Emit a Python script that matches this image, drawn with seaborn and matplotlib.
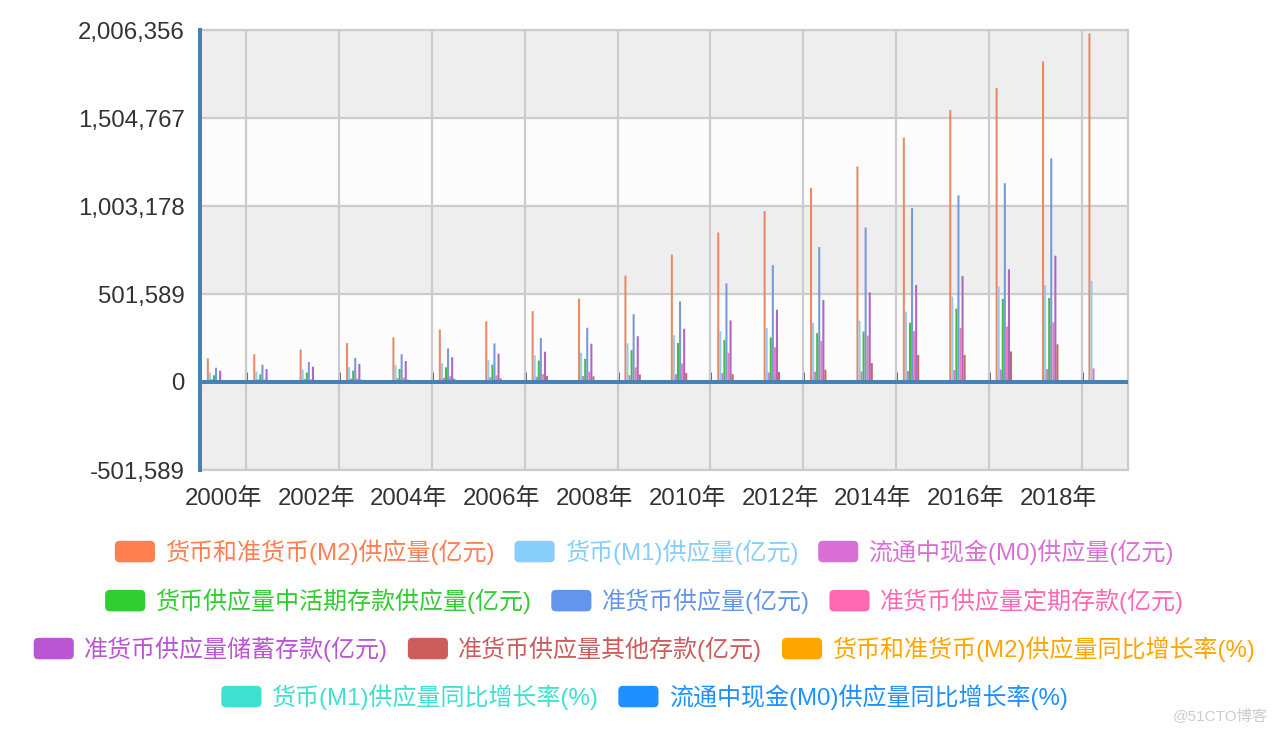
import numpy as np
import pandas as pd
import matplotlib
matplotlib.use("Agg")
import matplotlib.pyplot as plt
from matplotlib.patches import Patch, FancyBboxPatch
from matplotlib.legend_handler import HandlerBase
import seaborn as sns

sns.set_style("white")
plt.rcParams['font.family'] = ['Liberation Sans', 'Noto Sans CJK SC', 'DejaVu Sans']

# ---------------- data ----------------
years = [f"{y}年" for y in range(2000, 2020)]

m2 = [134610, 158302, 185007, 221223, 254107, 298756, 345604, 403442, 475167, 606225,
      725852, 851591, 974149, 1106525, 1228375, 1392278, 1550067, 1676769, 1826744, 1986489]
m1 = [53147, 59872, 70882, 84119, 95970, 107279, 126035, 152560, 166217, 220002,
      266622, 289848, 308664, 337291, 348056, 400953, 486557, 543790, 551686, 576009]
m0 = [14653, 15689, 17278, 19746, 21468, 24032, 27073, 30375, 34219, 38246,
      44628, 50749, 54660, 58574, 60260, 63217, 68304, 70646, 73208, 77189]
demand_dep = [38495, 44183, 53604, 64373, 74501, 83247, 98963, 122185, 131998, 181756,
              221993, 239099, 254004, 278717, 287797, 337737, 418253, 473145, 478478, np.nan]
quasi = [81463, 98430, 114125, 137104, 158137, 191477, 219569, 250882, 308950, 386224,
         459230, 561743, 665485, 769234, 880318, 991325, 1063510, 1132978, 1275058, np.nan]
time_dep = [10000, 14000, 15000, 20000, 25000, 32000, 38000, 45000, 59000, 83000,
            105000, 166000, 198000, 234000, 264000, 289000, 308000, 316000, 340000, np.nan]
savings_dep = [64300, 73800, 86900, 103600, 119600, 141000, 161600, 172500, 218000, 260800,
               303300, 351000, 412000, 467000, 511000, 553000, 604000, 643000, 720000, np.nan]
other_dep = [7000, 10500, 12000, 13500, 13500, 18500, 20000, 33400, 32000, 42500,
             51000, 44700, 57000, 70000, 108000, 154000, 154000, 174000, 215000, np.nan]
m2_yoy = [12.3, 17.6, 16.8, 19.6, 14.6, 17.6, 16.9, 16.7, 17.8, 27.7,
          19.7, 13.6, 13.8, 13.6, 12.2, 13.3, 11.3, 8.2, 8.1, 8.7]
m1_yoy = [16.0, 12.7, 16.8, 18.7, 13.6, 11.8, 17.5, 21.0, 9.1, 32.4,
          21.2, 7.9, 6.5, 9.3, 3.2, 15.2, 21.4, 11.8, 1.5, 4.4]
m0_yoy = [8.9, 7.1, 10.1, 14.3, 8.7, 11.9, 12.7, 12.1, 12.7, 11.8,
          16.7, 13.8, 7.7, 7.1, 2.9, 4.9, 8.1, 3.4, 3.6, 5.4]

series_names = [
    "货币和准货币(M2)供应量(亿元)", "货币(M1)供应量(亿元)", "流通中现金(M0)供应量(亿元)",
    "货币供应量中活期存款供应量(亿元)", "准货币供应量(亿元)", "准货币供应量定期存款(亿元)",
    "准货币供应量储蓄存款(亿元)", "准货币供应量其他存款(亿元)", "货币和准货币(M2)供应量同比增长率(%)",
    "货币(M1)供应量同比增长率(%)", "流通中现金(M0)供应量同比增长率(%)",
]
series_values = [m2, m1, m0, demand_dep, quasi, time_dep, savings_dep, other_dep,
                 m2_yoy, m1_yoy, m0_yoy]
colors = ['#ff7f50', '#87cefa', '#da70d6', '#32cd32', '#6495ed', '#ff69b4',
          '#ba55d3', '#cd5c5c', '#ffa500', '#40e0d0', '#1e90ff']

y_ticks = [-501589, 0, 501589, 1003178, 1504767, 2006356]

rows = []
for name, vals in zip(series_names, series_values):
    for yr, v in zip(years, vals):
        rows.append({"year": yr, "series": name, "value": v})
df = pd.DataFrame(rows)

# ---------------- figure ----------------
fig = plt.figure(figsize=(12.76, 7.34), dpi=100)
ax = fig.add_axes([200 / 1276, 1 - 470 / 734, 928 / 1276, 440 / 734])

# alternating background bands
band_cols = ['#eeeeee', '#fcfcfc']
for i in range(len(y_ticks) - 1):
    ax.axhspan(y_ticks[i], y_ticks[i + 1], color=band_cols[i % 2], zorder=0, lw=0)

n = len(series_names)
slot = 0.0442
sns.barplot(data=df, x="year", y="value", hue="series", order=years, hue_order=series_names,
            palette=colors, width=slot * n, gap=0.0, errorbar=None, legend=False,
            linewidth=0, ax=ax, zorder=2)
for c in ax.containers:
    for bar in c:
        bar.set_x(bar.get_x() - 0.11)
        bar.set_snap(False)

ax.set_xlim(-0.5, len(years) - 0.5)
ax.set_ylim(y_ticks[0], y_ticks[-1])
ax.set_xlabel("")
ax.set_ylabel("")

ax.set_yticks(y_ticks)
ax.set_yticklabels([f"{v:,}" for v in y_ticks])
ax.set_xticks(range(0, 19, 2))
ax.set_xticklabels(years[0:19:2])
bounds = [i + 0.5 for i in range(0, len(years), 2)]
ax.set_xticks(bounds, minor=True)

ax.tick_params(axis='both', which='both', length=0)
ax.tick_params(axis='y', pad=11, labelsize=17.3, labelcolor='#333333')
ax.tick_params(axis='x', pad=13, labelsize=17.3, labelcolor='#333333')

ax.grid(False)
ax.yaxis.grid(True, color='#cccccc', lw=1.6, zorder=1)
ax.xaxis.grid(True, which='minor', color='#cccccc', lw=1.6, zorder=1)
ax.set_axisbelow(True)

for s in ['top', 'right', 'bottom']:
    ax.spines[s].set_color('#cccccc')
    ax.spines[s].set_linewidth(1.6)
ax.spines['left'].set_color('#4682b4')
ax.spines['left'].set_linewidth(2.9)
ax.spines['left'].set_zorder(5)

ax.axhline(0, color='#4682b4', lw=2.9, zorder=4)

# small axis ticks on zero line
zero_frac = (0 - y_ticks[0]) / (y_ticks[-1] - y_ticks[0])
sec = ax.secondary_xaxis(zero_frac)
sec.set_xticks(bounds)
sec.tick_params(direction='in', length=7, width=2.2, color='#666666',
                labelbottom=False, labeltop=False)
for s in sec.spines.values():
    s.set_visible(False)


# ---------------- legend ----------------
class RoundHandler(HandlerBase):
    def create_artists(self, legend, orig_handle, xdescent, ydescent, width, height,
                       fontsize, trans):
        p = FancyBboxPatch((-xdescent, -ydescent), width, height,
                           boxstyle=f"round,pad=0,rounding_size={height * 0.22}",
                           facecolor=orig_handle.get_facecolor(), edgecolor='none',
                           transform=trans)
        return [p]


row_groups = [[0, 1, 2], [3, 4, 5], [6, 7, 8], [9, 10]]
row_y = [552, 601, 649, 697]
for grp, yc in zip(row_groups, row_y):
    handles = [Patch(facecolor=colors[k]) for k in grp]
    labels = [series_names[k] for k in grp]
    leg = fig.legend(handles, labels, loc='center', bbox_to_anchor=(0.505, 1 - yc / 734),
                     ncol=len(grp), frameon=False, fontsize=17.3,
                     handlelength=1.67, handleheight=1.0, handletextpad=0.42,
                     columnspacing=0.83, borderpad=0, borderaxespad=0,
                     handler_map={Patch: RoundHandler()})
    for t, k in zip(leg.get_texts(), grp):
        t.set_color(colors[k])

fig.text(1268 / 1276, 1 - 716 / 734, "@51CTO博客", ha='right', va='center',
         fontsize=11, color='#cccccc')

fig.savefig("out.png", dpi=100)
